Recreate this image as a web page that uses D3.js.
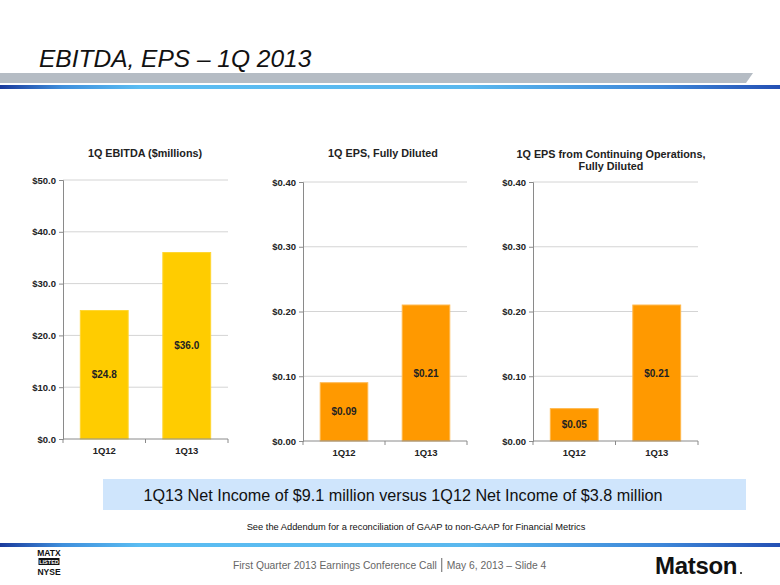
<!DOCTYPE html>
<html><head><meta charset="utf-8">
<script src="https://cdn.jsdelivr.net/npm/d3@7"></script>
<style>
html,body{margin:0;padding:0;background:#fff;}
svg{display:block;font-family:"Liberation Sans",Arial,sans-serif;}
</style></head>
<body>
<svg id="c" width="780" height="585"></svg>
<script>
const categories = ["1Q12", "1Q13"];
const ebitdaValues = [24.8, 36.0];
const ebitdaLabels = ["$24.8", "$36.0"];
const epsValues = [0.09, 0.21];
const epsLabels = ["$0.09", "$0.21"];
const epsContValues = [0.05, 0.21];
const epsContLabels = ["$0.05", "$0.21"];
const ebitdaTicks = [0, 10, 20, 30, 40, 50];
const epsTicks = [0, 0.1, 0.2, 0.3, 0.4];

const svg = d3.select("#c");

// header bands
const defs = svg.append("defs");
const g1 = defs.append("linearGradient").attr("id","blueGrad").attr("x1","0").attr("x2","1").attr("y1","0").attr("y2","0");
[[0,"#1a3a9c"],[0.08,"#3f8fdc"],[0.18,"#5bbdf2"],[0.6,"#5ab8ee"],[0.85,"#3d86d8"],[1,"#2450b4"]].forEach(s=>g1.append("stop").attr("offset",s[0]).attr("stop-color",s[1]));

svg.append("path").attr("d","M0,73 L753,73 L746,83 L0,83 Z").attr("fill","#b5bcc4");
svg.append("rect").attr("x",0).attr("y",85).attr("width",780).attr("height",4).attr("fill","url(#blueGrad)");
svg.append("rect").attr("x",0).attr("y",543).attr("width",780).attr("height",4).attr("fill","url(#blueGrad)");

svg.append("text").attr("x",39).attr("y",67).attr("font-size",24.5).attr("font-style","italic")
  .attr("fill","#111").text("EBITDA, EPS \u2013 1Q 2013");

function drawChart(opt){
  const x = d3.scaleBand().domain(categories).range([opt.x0, opt.x1]).paddingInner(0.42).paddingOuter(0.21);
  const y = d3.scaleLinear().domain([0, opt.max]).range([opt.y1, opt.y0]);
  const g = svg.append("g");
  g.selectAll(".grid").data(opt.ticks.slice(1)).join("line")
    .attr("x1",opt.x0).attr("x2",opt.x1).attr("y1",d=>y(d)).attr("y2",d=>y(d))
    .attr("stroke","#d4d4d4").attr("stroke-width",1);
  g.selectAll(".bar").data(opt.values).join("rect")
    .attr("x",(d,i)=>x(categories[i])).attr("width",x.bandwidth())
    .attr("y",d=>y(d)).attr("height",d=>y(0)-y(d))
    .attr("fill",opt.color).attr("stroke",opt.stroke).attr("stroke-width",1);
  g.selectAll(".lbl").data(opt.values).join("text")
    .attr("x",(d,i)=>x(categories[i])+x.bandwidth()/2)
    .attr("y",d=>(y(d)+y(0))/2+3.5)
    .attr("text-anchor","middle").attr("font-size",10).attr("font-weight","bold").attr("fill","#222")
    .text((d,i)=>opt.labels[i]);
  const ya = d3.axisLeft(y).tickValues(opt.ticks).tickSize(4).tickPadding(3).tickFormat(opt.fmt);
  const yg = g.append("g").attr("transform",`translate(${opt.x0},0)`).call(ya);
  const xa = d3.axisBottom(x).tickSize(0).tickPadding(8);
  const xg = g.append("g").attr("transform",`translate(0,${opt.y1})`).call(xa);
  xg.select(".domain").attr("d",`M${opt.x0},0H${opt.x1}`);
  const bounds = [opt.x0, (opt.x0+opt.x1)/2, opt.x1];
  xg.selectAll(".xt").data(bounds).join("line").attr("x1",d=>d).attr("x2",d=>d).attr("y1",0).attr("y2",4).attr("stroke","#8a8a8a");
  [yg,xg].forEach(a=>{
    a.selectAll(".domain").attr("stroke","#8a8a8a");
    a.selectAll(".tick line").attr("stroke","#8a8a8a");
    a.selectAll("text").attr("font-size",9.5).attr("font-weight","bold").attr("fill","#222")
      .attr("font-family","'Liberation Sans',Arial,sans-serif");
  });
  opt.title.forEach((t,i)=>{
    g.append("text").attr("x",opt.tx).attr("y",opt.ty+i*12).attr("text-anchor","middle")
      .attr("font-size",10.8).attr("font-weight","bold").attr("fill","#222").text(t);
  });
}

drawChart({x0:63,x1:228,y0:180,y1:439,max:50,ticks:ebitdaTicks,values:ebitdaValues,labels:ebitdaLabels,
  color:"#ffcc00",stroke:"#ffd633",fmt:d=>"$"+d.toFixed(1),title:["1Q EBITDA ($millions)"],tx:145,ty:157});
drawChart({x0:303,x1:467,y0:182,y1:441,max:0.4,ticks:epsTicks,values:epsValues,labels:epsLabels,
  color:"#ff9900",stroke:"#ffb84d",fmt:d=>"$"+d.toFixed(2),title:["1Q EPS, Fully Diluted"],tx:383,ty:157});
drawChart({x0:533,x1:698,y0:182,y1:441,max:0.4,ticks:epsTicks,values:epsContValues,labels:epsContLabels,
  color:"#ff9900",stroke:"#ffb84d",fmt:d=>"$"+d.toFixed(2),title:["1Q EPS from Continuing Operations,","Fully Diluted"],tx:611,ty:158});

// highlight box
svg.append("rect").attr("x",103).attr("y",479).attr("width",643).attr("height",31).attr("fill","#cfe5fc");
svg.append("text").attr("x",403).attr("y",500.5).attr("text-anchor","middle").attr("font-size",16.2).attr("fill","#111")
  .text("1Q13 Net Income of $9.1 million versus 1Q12 Net Income of $3.8 million");
svg.append("text").attr("x",416).attr("y",530).attr("text-anchor","middle").attr("font-size",9.3).attr("fill","#111")
  .text("See the Addendum for a reconciliation of GAAP to non-GAAP for Financial Metrics");

// footer
const f1 = svg.append("text").attr("x",233).attr("y",569).attr("font-size",10.3).attr("fill","#666")
  .text("First Quarter 2013 Earnings Conference Call");
const w1 = f1.node().getComputedTextLength();
const bx = 233 + w1 + 5;
svg.append("line").attr("x1",bx).attr("x2",bx).attr("y1",558).attr("y2",572).attr("stroke","#666").attr("stroke-width",1);
svg.append("text").attr("x",bx+5).attr("y",569).attr("font-size",10.3).attr("fill","#666")
  .text("May 6, 2013 \u2013 Slide 4");
svg.append("text").attr("x",655).attr("y",574).attr("font-size",24).attr("font-weight","bold").attr("fill","#111")
  .attr("letter-spacing","-0.3").text("Matson");
svg.append("circle").attr("cx",741).attr("cy",573).attr("r",1).attr("fill","#111");
// NYSE badge
svg.append("text").attr("x",49).attr("y",556).attr("text-anchor","middle").attr("font-size",8.5).attr("font-weight","bold").attr("fill","#111").text("MATX");
svg.append("rect").attr("x",38.5).attr("y",558).attr("width",21).attr("height",7).attr("fill","#111");
svg.append("text").attr("x",49).attr("y",564).attr("text-anchor","middle").attr("font-size",5.5).attr("font-weight","bold").attr("fill","#fff").text("LISTED");
svg.append("text").attr("x",49).attr("y",574.5).attr("text-anchor","middle").attr("font-size",8.5).attr("font-weight","bold").attr("fill","#111").text("NYSE");
</script>
</body></html>
